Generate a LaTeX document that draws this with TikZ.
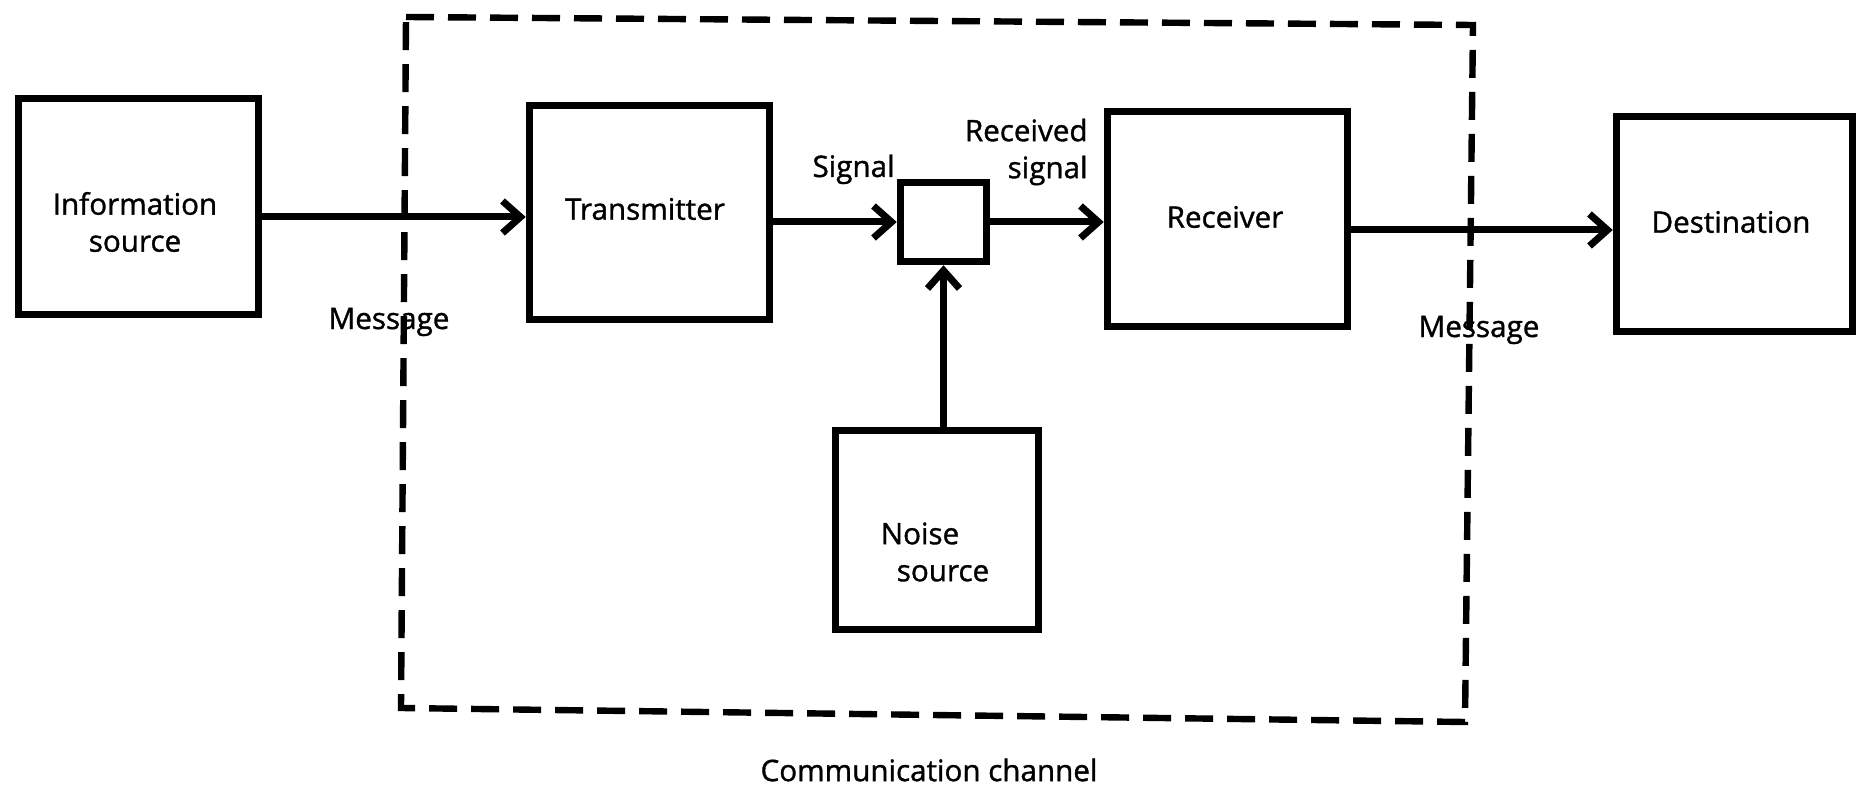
\documentclass[tikz,border=0pt]{standalone}
\usepackage{fontspec}
\setmainfont{Open Sans}[FakeBold=1.2,AutoFakeBold=1.2]
\usetikzlibrary{arrows.meta}
\begin{document}
\begin{tikzpicture}[x=0.5pt,y=-0.5pt,
  blk/.style={draw, line width=3.75pt, inner sep=0pt},
  txt/.style={font=\fontsize{14.8}{18.5}\selectfont\bfseries, align=center, inner sep=0pt},
  arr/.style={line width=3.5pt, -{Straight Barb[length=9pt,width=16pt]}},
  chanline/.style={line width=3.2pt, dash pattern=on 14pt off 7pt}]
\useasboundingbox (0,0) rectangle (1864,785);

% communication channel (dashed, slightly skewed)
\coordinate (c1) at (406,17);
\coordinate (c2) at (1473,25);
\coordinate (c3) at (1465,722);
\coordinate (c4) at (401,708);
\draw[chanline] (c1) -- (c2) -- (c3) -- (c4) -- cycle;

% blocks
\node[blk, minimum width=120pt, minimum height=108pt,
  label={[txt,xshift=-1.75pt,yshift=-7.75pt]center:Information\\source}] (info) at (138.5,206.5) {};
\node[blk, minimum width=120pt, minimum height=107pt,
  label={[txt,xshift=-2.25pt,yshift=1.75pt]center:Transmitter}] (trans) at (649.5,212.5) {};
\node[blk, minimum width=43pt, minimum height=39.5pt] (small) at (943.5,222) {};
\node[blk, minimum width=120pt, minimum height=107.5pt,
  label={[txt,xshift=-1.25pt,yshift=1pt]center:Receiver}] (recv) at (1227.5,219) {};
\node[blk, minimum width=118pt, minimum height=107.5pt,
  label={[txt,xshift=-1.75pt,yshift=1pt]center:Destination}] (dest) at (1734.5,224) {};
\node[blk, minimum width=101.5pt, minimum height=99.5pt,
  label={[txt,align=left,xshift=-1pt,yshift=-11pt]center:Noise\\\hspace*{8pt}source}] (noise) at (937,530) {};

% connectors
\draw[arr] ([yshift=-5.25pt]info.east) -- ([yshift=-5.25pt]info.east -| trans.west);
\draw[arr] (small.west -| trans.east) -- (small.west);
\draw[arr] (small.east) -- (small.east -| recv.west);
\draw[arr] ([yshift=-5.5pt]recv.east) -- ([yshift=-5.5pt]recv.east -| dest.west);
\draw[arr] (small.south |- noise.north) -- (small.south);

% labels
\node[txt] (msg1) at (389,322) {Message};
\node[txt] (msg2) at (1479,330) {Message};
\node[txt, anchor=base east] (sig) at (895,177) {Signal};
\node[txt, align=right, anchor=east] (rsig) at (1088,152) {Received\\signal};
\node[txt] (cc) at (929,770) {Communication channel};
\end{tikzpicture}
\end{document}
